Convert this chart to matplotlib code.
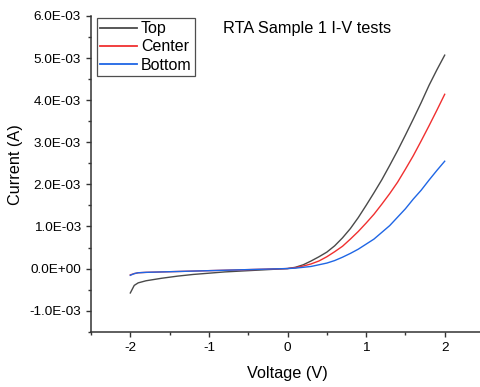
import matplotlib
matplotlib.use("Agg")
import matplotlib.pyplot as plt
from matplotlib.ticker import MultipleLocator, FuncFormatter

plt.rcParams['font.family'] = ['Liberation Sans', 'DejaVu Sans']

# Bias voltage (V)
voltage = [-2.0, -1.95, -1.9, -1.8, -1.6, -1.4, -1.2, -1.0, -0.8, -0.6, -0.4, -0.2,
           0.0, 0.1, 0.2, 0.3, 0.4, 0.5, 0.6, 0.7, 0.8, 0.9, 1.0, 1.1, 1.2, 1.3,
           1.4, 1.5, 1.6, 1.7, 1.8, 1.9, 2.0]

# Measured current in mA for each probe position
top_mA = [-0.58, -0.40, -0.34, -0.29, -0.23, -0.18, -0.14, -0.11, -0.08, -0.06, -0.04, -0.02,
          0.0, 0.03, 0.09, 0.18, 0.28, 0.39, 0.54, 0.73, 0.95, 1.21, 1.50, 1.80, 2.11, 2.45,
          2.80, 3.17, 3.55, 3.94, 4.35, 4.72, 5.07]
center_mA = [-0.15, -0.12, -0.10, -0.09, -0.08, -0.07, -0.06, -0.05, -0.04, -0.03, -0.02, -0.01,
             0.0, 0.02, 0.06, 0.11, 0.18, 0.28, 0.40, 0.53, 0.70, 0.88, 1.08, 1.29, 1.53, 1.78,
             2.05, 2.36, 2.68, 3.03, 3.39, 3.76, 4.14]
bottom_mA = [-0.16, -0.12, -0.10, -0.09, -0.08, -0.07, -0.06, -0.05, -0.04, -0.03, -0.02, -0.01,
             0.0, 0.01, 0.03, 0.05, 0.09, 0.13, 0.19, 0.27, 0.36, 0.46, 0.58, 0.70, 0.86, 1.02,
             1.22, 1.42, 1.65, 1.86, 2.10, 2.33, 2.55]

series_labels = ["Top", "Center", "Bottom"]
series_colors = ["#4a4a4a", "#f03030", "#1f66e5"]

fig = plt.figure(figsize=(4.81, 3.87), dpi=100)
ax = fig.add_axes([91 / 481, 55.3 / 387, 393 / 481, 315.7 / 387])

for vals, lab, col in zip([top_mA, center_mA, bottom_mA], series_labels, series_colors):
    ax.plot(voltage, [v * 1e-3 for v in vals], color=col, lw=1.0, label=lab)

ax.set_xlim(-2.5, 2.5)
ax.set_ylim(-1.5e-3, 6.0e-3)

ax.xaxis.set_major_locator(MultipleLocator(1))
ax.xaxis.set_minor_locator(MultipleLocator(0.5))
ax.yaxis.set_major_locator(MultipleLocator(1e-3))
ax.yaxis.set_minor_locator(MultipleLocator(0.5e-3))
ax.xaxis.set_major_formatter(FuncFormatter(lambda v, p: f"{v:g}"))
ax.yaxis.set_major_formatter(FuncFormatter(lambda v, p: f"{v:.1E}"))

for side in ("top", "right"):
    ax.spines[side].set_visible(False)
for side in ("left", "bottom"):
    ax.spines[side].set_linewidth(1.1)
    ax.spines[side].set_color("#333333")

ax.tick_params(which="major", direction="out", length=3.6, width=1.0, color="#333333",
               labelsize=9.7, pad=3.6)
ax.tick_params(which="minor", direction="out", length=2.2, width=1.0, color="#333333")

ax.set_xlabel("Voltage (V)", fontsize=11.7)
ax.set_ylabel("Current (A)", fontsize=11.7)
ax.xaxis.set_label_coords(0.5, -0.108)
ax.yaxis.set_label_coords(-0.173, 0.528)

fig.text(223 / 481, 1 - 29 / 387, "RTA Sample 1 I-V tests", fontsize=11.7,
         va="center", ha="left")

leg = ax.legend(loc="upper left", bbox_to_anchor=(0.0153, 0.9937), borderaxespad=0,
                fontsize=11.5, handlelength=2.3, handletextpad=0.25, borderpad=0.2,
                labelspacing=0.2, frameon=True, fancybox=False)
leg.get_frame().set_edgecolor("#222222")
leg.get_frame().set_linewidth(0.9)
for line in leg.get_lines():
    line.set_linewidth(1.3)

fig.savefig("out.png", dpi=100)
